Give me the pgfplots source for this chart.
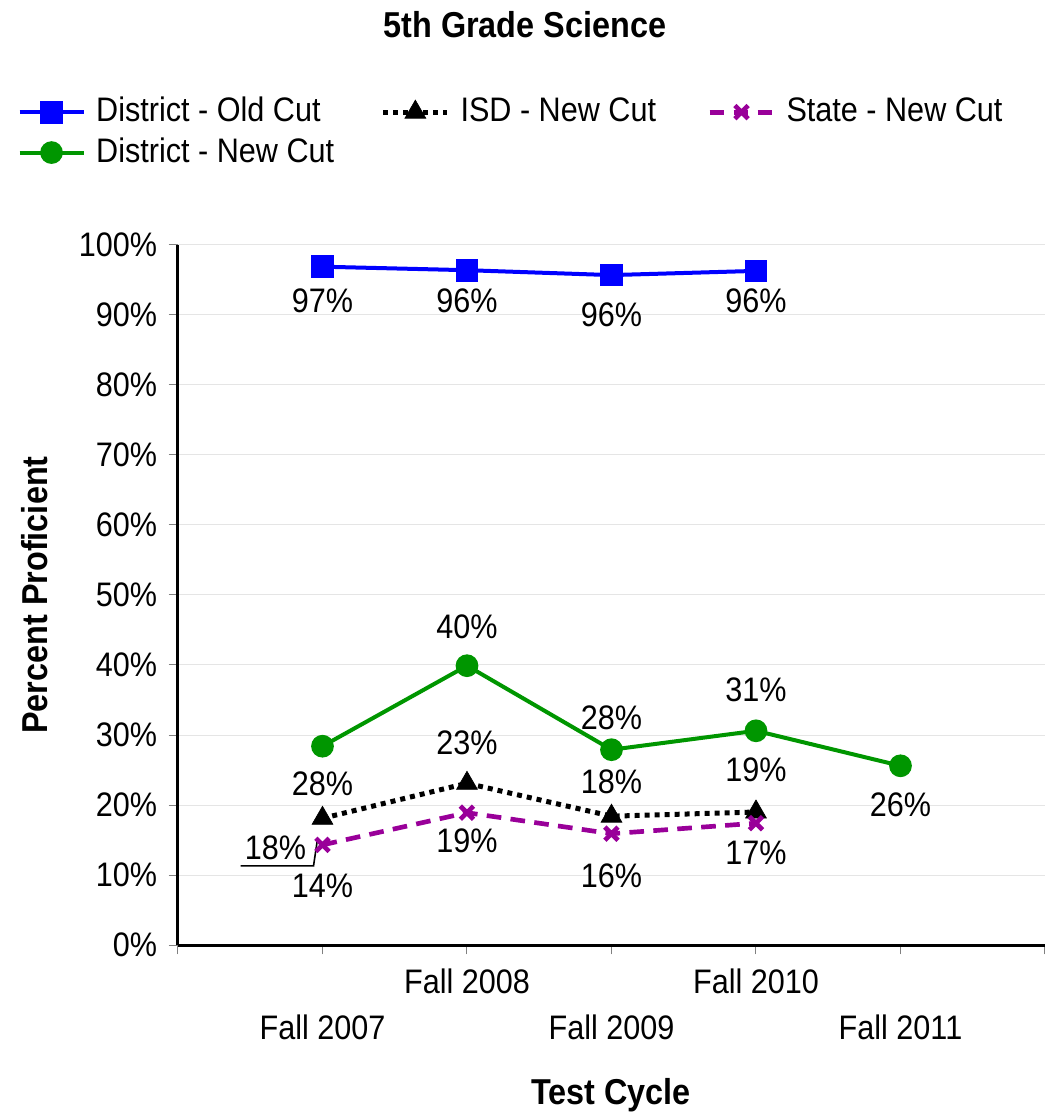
\documentclass[border=0pt]{standalone}
\usepackage{pgfplots}
\pgfplotsset{compat=1.18}
\usepackage{fontspec}
\setmainfont{Liberation Sans}[FakeStretch=0.9]
\definecolor{oldblue}{RGB}{0,0,255}
\definecolor{newgreen}{RGB}{0,150,0}
\definecolor{statepurple}{RGB}{153,0,153}
\newcommand{\fs}{\fontsize{25.5}{30}\selectfont}
\begin{document}
\fs
\begin{tikzpicture}
\path[use as bounding box] (-133.5pt,-127.5pt) rectangle (655.5pt,708.75pt);
\begin{axis}[
  at={(0,0)}, anchor=south west,
  scale only axis, width=650.25pt, height=525pt,
  xmin=-1, xmax=5, ymin=0, ymax=100,
  axis x line*=bottom, axis y line*=left,
  axis line style={line width=2.25pt, -},
  xtick={-1,0,1,2,3,4,5},
  xticklabels={{},{\mbox{}\\[23.5pt]Fall 2007},{Fall 2008},{\mbox{}\\[23.5pt]Fall 2009},{Fall 2010},{\mbox{}\\[23.5pt]Fall 2011},{}},
  xticklabel style={align=center, font=\fs, yshift=-2pt},
  ytick={0,10,...,100},
  yticklabels={0\%,10\%,20\%,30\%,40\%,50\%,60\%,70\%,80\%,90\%,100\%},
  yticklabel style={font=\fs},
  tick align=outside,
  major tick length=7pt,
  tick style={gray, line width=0.75pt},
  ymajorgrids, grid style={gray!20, line width=0.75pt},
  title={\bfseries 5th Grade Science},
  title style={at={(axis description cs:0.400,1.304)}, anchor=center, font=\fontsize{27}{32}\selectfont},
  xlabel={\bfseries Test Cycle},
  xlabel style={at={(axis description cs:0.4994,-0.214)}, anchor=center, font=\fontsize{27}{32}\selectfont},
  ylabel={\bfseries Percent Proficient},
  ylabel style={at={(axis description cs:-0.165,0.5)}, anchor=center, font=\fontsize{27}{32}\selectfont},
  clip=false,
  legend columns=3,
  legend cell align=left,
  legend style={at={(axis description cs:-0.19,1.219)}, anchor=north west, draw=none, fill=none,
    font=\fs, column sep=0pt, row sep=4pt},
  legend image code/.code={\draw[#1, mark repeat=2, mark phase=2] plot coordinates {(0pt,0pt)(24pt,0pt)(48pt,0pt)};},
]
\addplot[oldblue, line width=3pt, mark=square*, mark size=7pt, mark options={solid}]
  coordinates {(0,96.9) (1,96.4) (2,95.7) (3,96.3)};
\addlegendentry{\makebox[217.5pt][l]{\hspace{6pt}District - Old Cut}}
\addplot[black, line width=3.75pt, dash pattern=on 3.75pt off 3.75pt, mark=triangle*, mark size=9pt, mark options={solid, line width=0.5pt}]
  coordinates {(0,18.1) (1,23.1) (2,18.4) (3,19.0)};
\addlegendentry{\makebox[189pt][l]{\hspace{6pt}ISD - New Cut}}
\addplot[statepurple, line width=3.5pt, dash pattern=on 11pt off 7pt, mark=x, mark size=7pt, mark options={solid, line width=3.5pt}]
  coordinates {(0,14.3) (1,18.9) (2,15.9) (3,17.4)};
\addlegendentry{\hspace{6pt}State - New Cut}
\addplot[newgreen, line width=3pt, mark=*, mark size=7pt, mark options={solid}]
  coordinates {(0,28.4) (1,39.9) (2,27.9) (3,30.6) (4,25.6)};
\addlegendentry{\hspace{6pt}District - New Cut}
% data labels
\begin{scope}[every node/.style={font=\fs, inner sep=0pt}]
\node at (axis cs:0,92.1) {97\%};
\node at (axis cs:1,92.1) {96\%};
\node at (axis cs:2,90.0) {96\%};
\node at (axis cs:3,92.1) {96\%};
\node at (axis cs:0,23.1) {28\%};
\node at (axis cs:1,45.4) {40\%};
\node at (axis cs:2,32.4) {28\%};
\node at (axis cs:3,36.4) {31\%};
\node at (axis cs:4,20.0) {26\%};
\node at (axis cs:-0.325,13.9) {18\%};
\node at (axis cs:1,28.9) {23\%};
\node at (axis cs:2,23.3) {18\%};
\node at (axis cs:3,25.0) {19\%};
\node at (axis cs:0,8.4) {14\%};
\node at (axis cs:1,14.9) {19\%};
\node at (axis cs:2,9.9) {16\%};
\node at (axis cs:3,13.1) {17\%};
\end{scope}
\draw[black, line width=1.2pt] (axis cs:-0.567,11.3) -- (axis cs:-0.062,11.3) -- (axis cs:-0.035,15.1);
\end{axis}
\end{tikzpicture}
\end{document}
